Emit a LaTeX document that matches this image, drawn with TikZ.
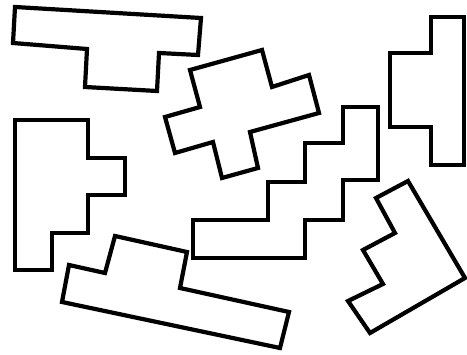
\documentclass[tikz,border=0pt]{standalone}
\begin{document}
\begin{tikzpicture}[x=1pt,y=-1pt,pezzo/.style={line width=4.2pt,line join=miter}]
        \useasboundingbox (0,0) rectangle (467,355);
        %T in alto
        \draw[pezzo] (15,7) -- (201,18) -- (198,55) -- (159,53)
          -- (157,91) -- (85,87) -- (87,49) -- (13,43) -- cycle;
        %croce
        \draw[pezzo] (190,70) -- (262,50) -- (272,87) -- (309,75)
          -- (319,113) -- (250,132) -- (258,168) -- (222,178)
          -- (213,142) -- (175,153) -- (165,117) -- (200,107) -- cycle;
        %destra
        \draw[pezzo] (431,17) -- (464,17) -- (464,165) -- (431,165)
          -- (431,127) -- (390,127) -- (390,53) -- (431,53) -- cycle;
        %sinistra
        \draw[pezzo] (15,120) -- (88,120) -- (88,158) -- (125,158)
          -- (125,195) -- (88,195) -- (88,233) -- (52,233)
          -- (52,270) -- (15,270) -- cycle;
        %scala
        \draw[pezzo] (343,107) -- (378,107) -- (378,180) -- (343,180)
          -- (343,220) -- (305,220) -- (305,258) -- (193,258)
          -- (193,220) -- (268,220) -- (268,182) -- (305,182)
          -- (305,143) -- (343,143) -- cycle;
        %in basso
        \draw[pezzo] (115,236) -- (187,252) -- (180,288) -- (289,312)
          -- (280,348) -- (62,302) -- (69,265) -- (105,273) -- cycle;
        %in basso a destra
        \draw[pezzo] (408,181) -- (465,278) -- (370,333) -- (348,301)
          -- (383,284) -- (363,250) -- (395,233) -- (376,198) -- cycle;
    \end{tikzpicture}
\end{document}
